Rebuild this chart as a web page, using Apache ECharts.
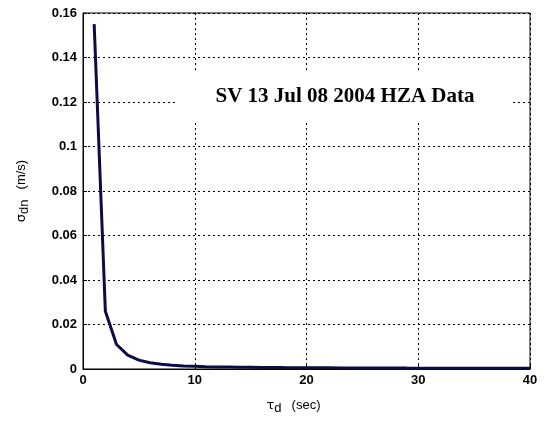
<!DOCTYPE html>
<html>
<head>
<meta charset="utf-8">
<script src="https://cdn.jsdelivr.net/npm/echarts@6/dist/echarts.min.js"></script>
<style>html,body{margin:0;padding:0;background:#fff;}#c{width:549px;height:421px;}</style>
</head>
<body>
<div id="c"></div>
<script>
var tau = [1,2,3,4,5,6,7,8,9,10,11,12,13,14,15,16,17,18,19,20,21,22,23,24,25,26,27,28,29,30,31,32,33,34,35,36,37,38,39,40];
var sigma = [0.155,0.026,0.011,0.0062,0.004,0.0028,0.0021,0.0017,0.0014,0.0012,0.0010,0.0009,0.00085,0.0008,0.00075,0.0007,0.00066,0.00062,0.00059,0.00056,0.00054,0.00052,0.0005,0.00048,0.00046,0.00044,0.00043,0.00042,0.0004,0.00039,0.00038,0.00037,0.00036,0.00035,0.00034,0.00033,0.00032,0.00031,0.0003,0.0003];
var xTicks = [0,10,20,30,40];
var yTicks = [0,0.02,0.04,0.06,0.08,0.1,0.12,0.14,0.16];
var titleText = 'SV 13 Jul 08 2004 HZA Data';

var chart = echarts.init(document.getElementById('c'), null, {renderer:'canvas'});
var data = tau.map(function(t,i){return [t, sigma[i]];});
var grid = {left:83, right:19, top:13, bottom:52};
var splitStyle = {color:'#000', width:1, type:[2,3]};
var tickLabel = {color:'#000', fontFamily:'Liberation Sans, Arial', fontWeight:'bold', fontSize:13};
function richStyle(){
  return {
    t:{fontFamily:'DejaVu Sans', fontSize:13, color:'#000', verticalAlign:'top', lineHeight:16},
    s:{fontFamily:'Liberation Sans, Arial', fontSize:13, color:'#000', verticalAlign:'bottom', lineHeight:16, padding:[8,0,0,0]},
    u:{fontFamily:'Liberation Sans, Arial', fontSize:13, color:'#000', verticalAlign:'top', lineHeight:16}
  };
}
chart.setOption({
  animation:false,
  backgroundColor:'#fff',
  grid: Object.assign({show:true, borderColor:'#000', borderWidth:1, backgroundColor:'transparent'}, grid),
  xAxis:{
    type:'value', min:xTicks[0], max:xTicks[xTicks.length-1], interval:10,
    axisLine:{show:true, lineStyle:{color:'#000', width:1}},
    axisTick:{show:true, inside:true, length:4, lineStyle:{color:'#000'}},
    axisLabel:Object.assign({margin:5, formatter:function(v){return String(v);}}, tickLabel),
    splitLine:{show:true, lineStyle:splitStyle},
    name:'{t|τ}{s|d}   {u|(sec)}', nameLocation:'middle', nameGap:30,
    nameTextStyle:{padding:[0,26,0,0], rich:richStyle()}
  },
  yAxis:{
    type:'value', min:0, max:0.16, interval:0.02,
    axisLine:{show:true, lineStyle:{color:'#000', width:1}},
    axisTick:{show:true, inside:true, length:4, lineStyle:{color:'#000'}},
    axisLabel:Object.assign({margin:6, formatter:function(v){return String(Math.round(v*100)/100);}}, tickLabel),
    splitLine:{show:true, lineStyle:splitStyle},
    name:'{t|σ}{s|dn}   {u|(m/s)}', nameLocation:'middle', nameGap:52, nameRotate:90,
    nameTextStyle:{rich:richStyle()}
  },
  graphic:[
    {type:'rect', z:50, shape:{x:177, y:73, width:336, height:49}, style:{fill:'#fff'}},
    {type:'text', z:51, x:345, y:97, style:{text:titleText, fontFamily:'Liberation Serif, Times New Roman', fontWeight:'bold', fontSize:21, fill:'#000', align:'center', verticalAlign:'middle'}}
  ],
  series:[{
    type:'line', data:data, showSymbol:false, symbol:'none',
    lineStyle:{color:'#0b0b48', width:3}, z:10
  }]
});
</script>
</body>
</html>
